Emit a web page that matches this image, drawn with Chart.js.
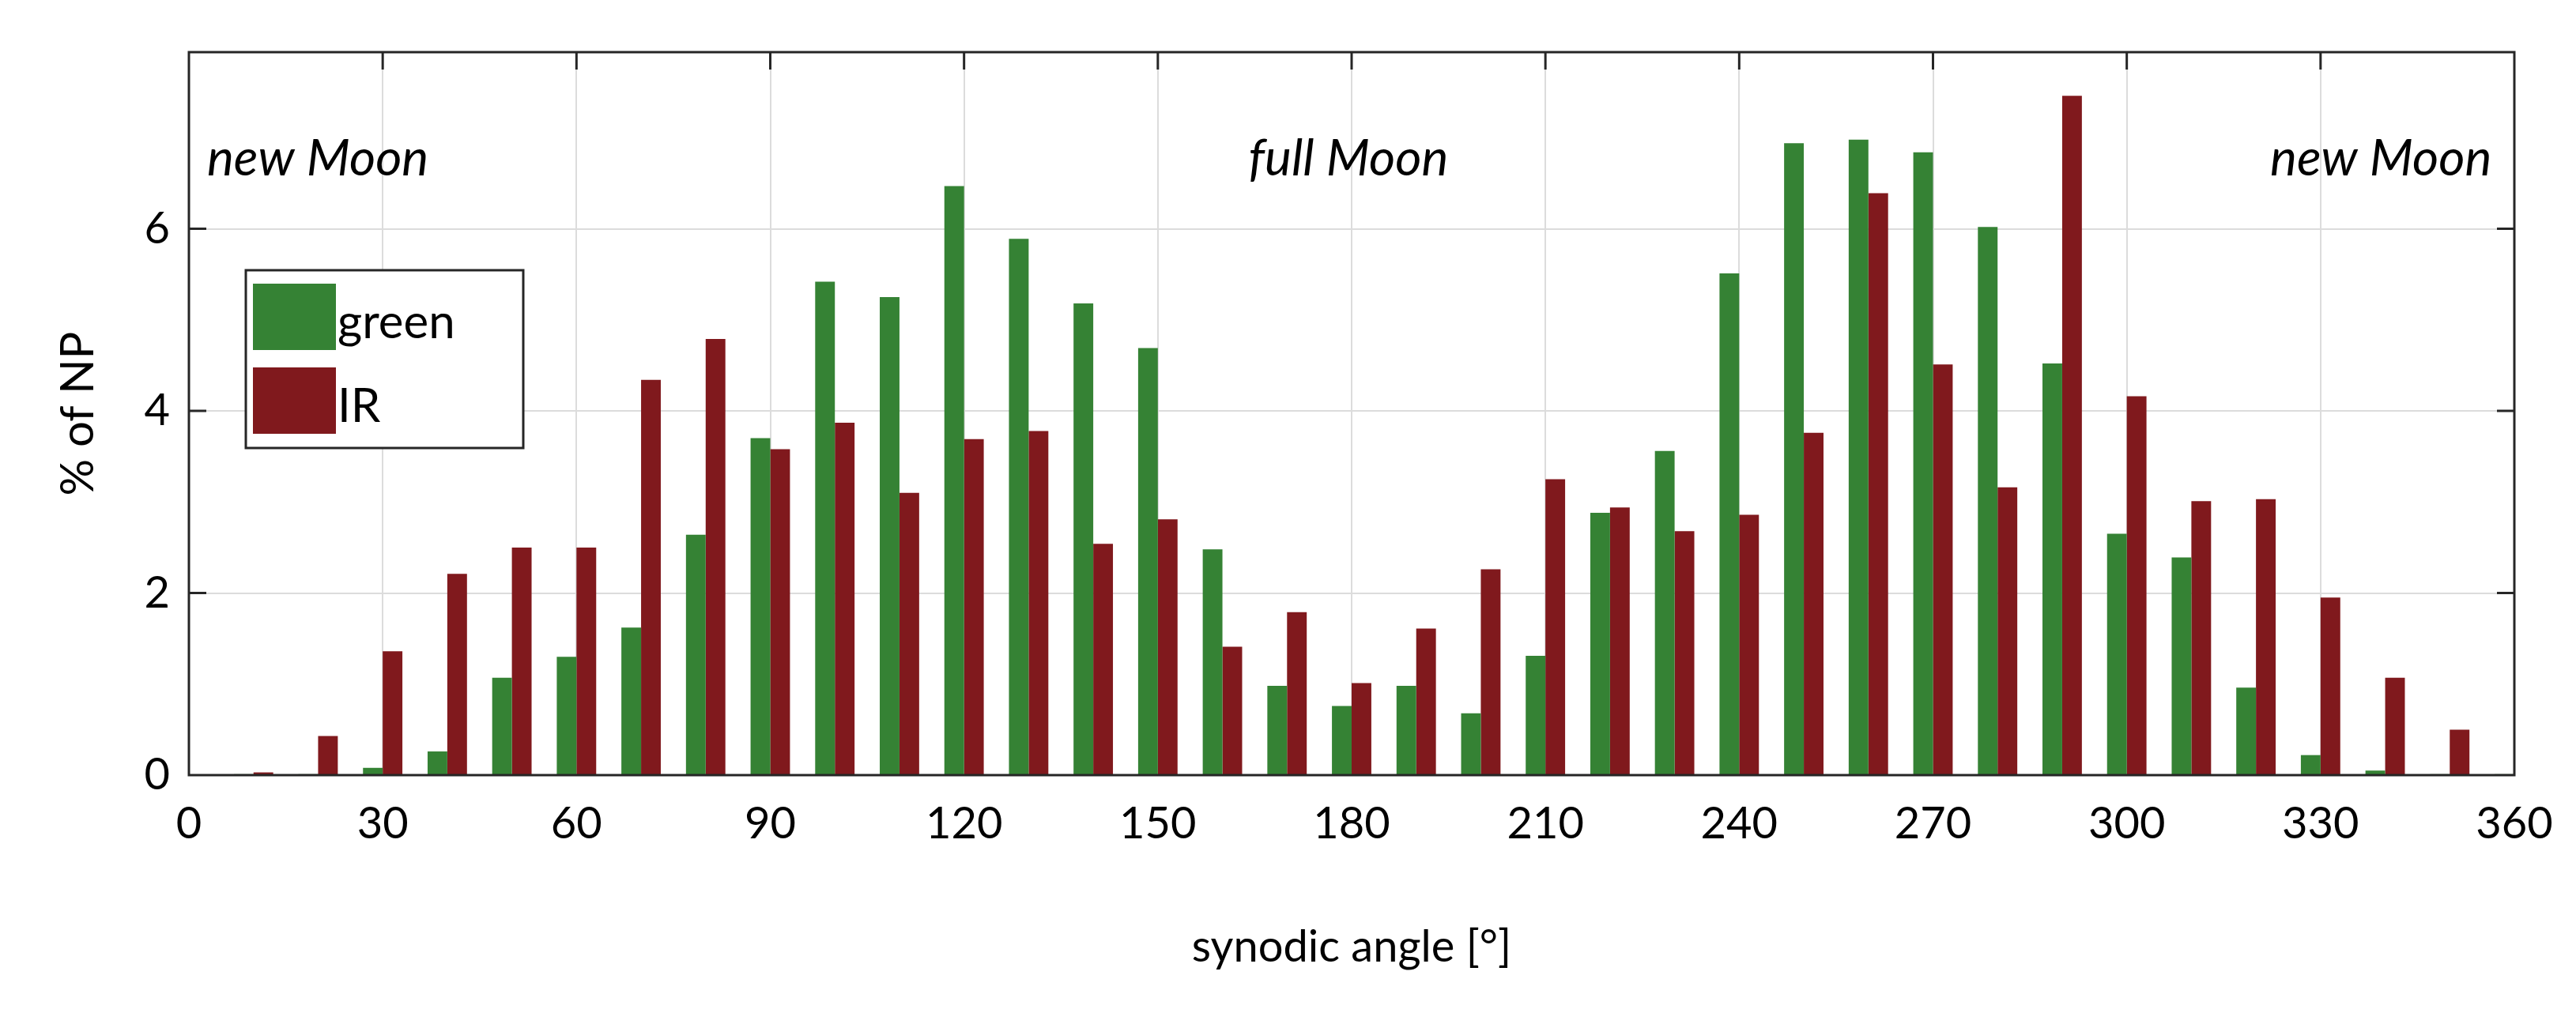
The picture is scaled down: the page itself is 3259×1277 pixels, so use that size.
<!DOCTYPE html>
<html>
<head>
<meta charset="utf-8">
<script src="https://cdn.jsdelivr.net/npm/chart.js@4/dist/chart.umd.min.js"></script>
<style>
  html, body { margin: 0; padding: 0; background: #fff; }
  #wrap { width: 3259px; height: 1277px; }
</style>
</head>
<body>
<div id="wrap"><canvas id="c" width="3259" height="1277"></canvas></div>
<script>
// --- data (bin centres in degrees, % of NP) ---
const angles = [10, 20, 30, 40, 50, 60, 70, 80, 90, 100, 110, 120, 130, 140, 150, 160, 170, 180,
  190, 200, 210, 220, 230, 240, 250, 260, 270, 280, 290, 300, 310, 320, 330, 340, 350, 360];
const greenValues = [0.01, 0.01, 0.08, 0.26, 1.07, 1.30, 1.62, 2.64, 3.70, 5.42, 5.25, 6.47, 5.89, 5.18, 4.69, 2.48, 0.98, 0.76,
  0.98, 0.68, 1.31, 2.88, 3.56, 5.51, 6.94, 6.98, 6.84, 6.02, 4.52, 2.65, 2.39, 0.96, 0.22, 0.05, 0.01, 0.01];
const irValues = [0.03, 0.43, 1.36, 2.21, 2.50, 2.50, 4.34, 4.79, 3.58, 3.87, 3.10, 3.69, 3.78, 2.54, 2.81, 1.41, 1.79, 1.01,
  1.61, 2.26, 3.25, 2.94, 2.68, 2.86, 3.76, 6.39, 4.51, 3.16, 7.46, 4.16, 3.01, 3.03, 1.95, 1.07, 0.50, 0];
const xTicks = [0, 30, 60, 90, 120, 150, 180, 210, 240, 270, 300, 330, 360];
const yTicks = [0, 2, 4, 6];
const phaseLabels = [
  { text: 'new Moon', at: 2.8, align: 'left' },
  { text: 'full Moon', at: 179.5, align: 'center' },
  { text: 'new Moon', at: 356.5, align: 'right' }
];

const GREEN = '#358234';
const RED = '#80191d';
const FONT = 'Lato, "DejaVu Sans", sans-serif';

// --- frame, inner ticks, phase labels and legend ---
const decorations = {
  id: 'decorations',
  afterDraw(chart) {
    const { ctx, chartArea: a, scales: { x, y } } = chart;
    ctx.save();
    ctx.strokeStyle = '#262626';
    ctx.lineWidth = 3;
    ctx.strokeRect(a.left, a.top, a.right - a.left, a.bottom - a.top);
    const tl = 22;
    xTicks.slice(1, -1).forEach(v => {
      const px = x.getPixelForValue(v);
      ctx.beginPath();
      ctx.moveTo(px, a.top); ctx.lineTo(px, a.top + tl);
      ctx.stroke();
    });
    yTicks.slice(1).forEach(v => {
      const py = y.getPixelForValue(v);
      ctx.beginPath();
      ctx.moveTo(a.left, py); ctx.lineTo(a.left + tl, py);
      ctx.moveTo(a.right, py); ctx.lineTo(a.right - tl, py);
      ctx.stroke();
    });

    ctx.fillStyle = '#000';
    ctx.font = 'italic 64px ' + FONT;
    ctx.textBaseline = 'alphabetic';
    phaseLabels.forEach(p => {
      ctx.textAlign = p.align;
      ctx.fillText(p.text, x.getPixelForValue(p.at), 222);
    });

    // legend box
    const lx = 311, ly = 342, lw = 351, lh = 225;
    ctx.fillStyle = '#fff';
    ctx.fillRect(lx, ly, lw, lh);
    ctx.lineWidth = 3;
    ctx.strokeRect(lx, ly, lw, lh);
    const items = [{ label: 'green', color: GREEN }, { label: 'IR', color: RED }];
    ctx.font = '60px ' + FONT;
    ctx.textAlign = 'left';
    ctx.textBaseline = 'middle';
    items.forEach((it, i) => {
      const top = ly + 17 + i * 106;
      ctx.fillStyle = it.color;
      ctx.fillRect(lx + 9, top, 105, 84);
      ctx.fillStyle = '#000';
      ctx.fillText(it.label, lx + 116, top + 50);
    });
    ctx.restore();
  }
};

new Chart(document.getElementById('c'), {
  type: 'bar',
  data: {
    datasets: [
      { label: 'green', data: angles.map((a, i) => ({ x: a, y: greenValues[i] })), backgroundColor: GREEN },
      { label: 'IR', data: angles.map((a, i) => ({ x: a, y: irValues[i] })), backgroundColor: RED }
    ]
  },
  options: {
    responsive: false,
    animation: false,
    devicePixelRatio: 1,
    layout: { padding: { top: 66, right: 78, left: 60, bottom: 40 } },
    datasets: { bar: { barPercentage: 1.0, categoryPercentage: 0.61 } },
    plugins: { legend: { display: false }, tooltip: { enabled: false } },
    scales: {
      x: {
        type: 'linear', min: 0, max: 360, offset: false,
        afterBuildTicks: s => { s.ticks = xTicks.map(v => ({ value: v })); },
        afterFit: s => { s.height = 1277 - 981 - 40; },
        grid: { color: '#dcdcdc', lineWidth: 2, drawTicks: false, offset: false },
        border: { display: false },
        ticks: { color: '#000', font: { family: FONT, size: 56 }, padding: 28, maxRotation: 0 },
        title: { display: true, text: 'synodic angle [°]', color: '#000', font: { family: FONT, size: 56 }, padding: { top: 30 } }
      },
      y: {
        min: 0, max: 7.94,
        afterBuildTicks: s => { s.ticks = yTicks.map(v => ({ value: v })); },
        afterFit: s => { s.width = 239 - 60; },
        grid: { color: '#dcdcdc', lineWidth: 2, drawTicks: false },
        border: { display: false },
        ticks: { color: '#000', font: { family: FONT, size: 56 }, padding: 24 },
        title: { display: true, text: '% of NP', color: '#000', font: { family: FONT, size: 58 }, padding: { bottom: 6 } }
      }
    }
  },
  plugins: [decorations]
});
</script>
</body>
</html>
